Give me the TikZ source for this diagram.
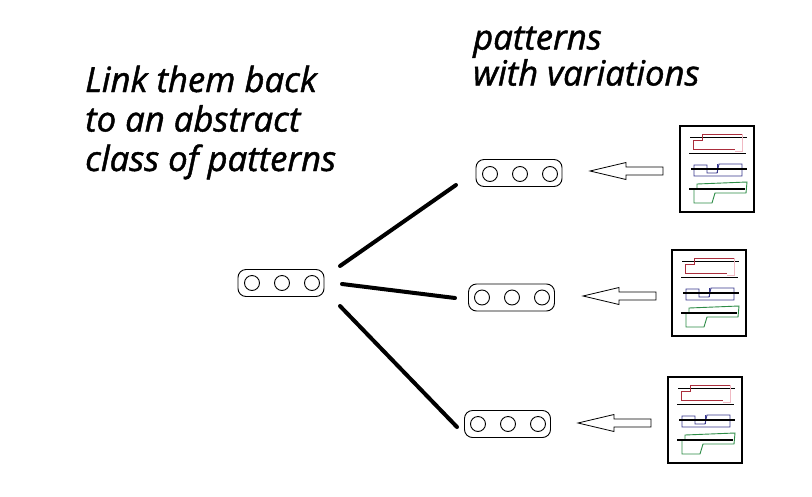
\documentclass[tikz,border=0pt]{standalone}
\usepackage{fontspec}
\setmainfont{Open Sans}
\newfontfamily\capfont{Open Sans}[ItalicFeatures={FakeBold=1.3}]
\begin{document}
\begin{tikzpicture}[x=1pt,y=-1pt,
  pill/.style={draw, rounded corners=8pt, minimum width=86pt, minimum height=27pt, inner sep=0pt, line width=0.9pt},
  hole/.style={draw, circle, minimum size=15pt, inner sep=0pt, line width=0.9pt},
  link/.style={line width=4pt, line cap=round},
  bigtxt/.style={font=\capfont\itshape\fontsize{34.7}{39.5}\selectfont, align=left, inner sep=0pt},
  midtxt/.style={font=\capfont\itshape\fontsize{34.7}{36}\selectfont, align=left, inner sep=0pt},
  docsheet/.pic={
    \draw[line width=2.5pt] (0,0) rectangle (74,86);
    \draw[line width=0.8pt] (10,11) -- (67,11);
    \draw[line width=0.8pt] (9,27) -- (66,27);
    \draw[line width=0.9pt, color=redline] (62,8) -- (22,8) -- (22,14) -- (13,14) -- (13,23) -- (55,23);
    \draw[line width=0.9pt, color=pinkline] (62,8) -- (62,25) -- (55,25);
    \draw[line width=0.9pt, color=blueline] (27,39) -- (14,39) -- (14,50) -- (62,50) -- (62,38) -- (39,38) -- (37,47) -- (27,47) -- cycle;
    \draw[line width=0.9pt, color=blueline] (37,38) -- (37,47);
    \draw[line width=2.8pt] (11,43) -- (67,43);
    \draw[line width=0.9pt, color=greenline] (17,58) -- (67,56) -- (66,67) -- (35,67) -- (32,77) -- (14,77) -- (14,63) -- (17,63) -- cycle;
    \draw[line width=2.8pt] (9,63) -- (65,63);
  },
  harrow/.pic={
    \draw[line width=0.8pt, line join=miter] (0,0) -- (36,-8.5) -- (36,-4) -- (73,-4) -- (73,4) -- (36,4) -- (36,8.5) -- cycle;
  }
]
\definecolor{redline}{RGB}{170,45,60}
\definecolor{pinkline}{RGB}{240,185,195}
\definecolor{blueline}{RGB}{55,55,140}
\definecolor{greenline}{RGB}{45,140,70}
\useasboundingbox[fill=white] (0,0) rectangle (812,496);

% texts
\node[bigtxt, anchor=base west] (lefttext) at (85,171) {Link them back\\to an abstract\\class of patterns};
\node[midtxt, anchor=base west] (toptext) at (473,85.5) {patterns\\with variations};

% pills
\node[pill] (L) at (281,283) {};
\node[hole] (L1) at (252,283) {};
\node[hole] (L2) at (282,283) {};
\node[hole] (L3) at (312,283) {};

\node[pill] (T) at (519,173) {};
\node[hole] (T1) at (490,174) {};
\node[hole] (T2) at (520,174) {};
\node[hole] (T3) at (550,174) {};

\node[pill] (M) at (511.5,297.5) {};
\node[hole] (M1) at (482,297.5) {};
\node[hole] (M2) at (512,297.5) {};
\node[hole] (M3) at (542,297.5) {};

\node[pill] (B) at (507.5,424) {};
\node[hole] (B1) at (478,424) {};
\node[hole] (B2) at (508,424) {};
\node[hole] (B3) at (538,424) {};

% link endpoints
\coordinate (s1) at (340,266);
\coordinate (e1) at (456,185);
\coordinate (s2) at (342,284);
\coordinate (e2) at (455,298);
\coordinate (s3) at (340,306);
\coordinate (e3) at (457,427);
\draw[link] (s1) -- (e1);
\draw[link] (s2) -- (e2);
\draw[link] (s3) -- (e3);

% arrows
\pic at (590,171) {harrow};
\pic at (583,296) {harrow};
\pic at (578,423) {harrow};

% documents
\pic at (680,126) {docsheet};
\pic at (672,250) {docsheet};
\pic at (668,377) {docsheet};
\end{tikzpicture}
\end{document}
